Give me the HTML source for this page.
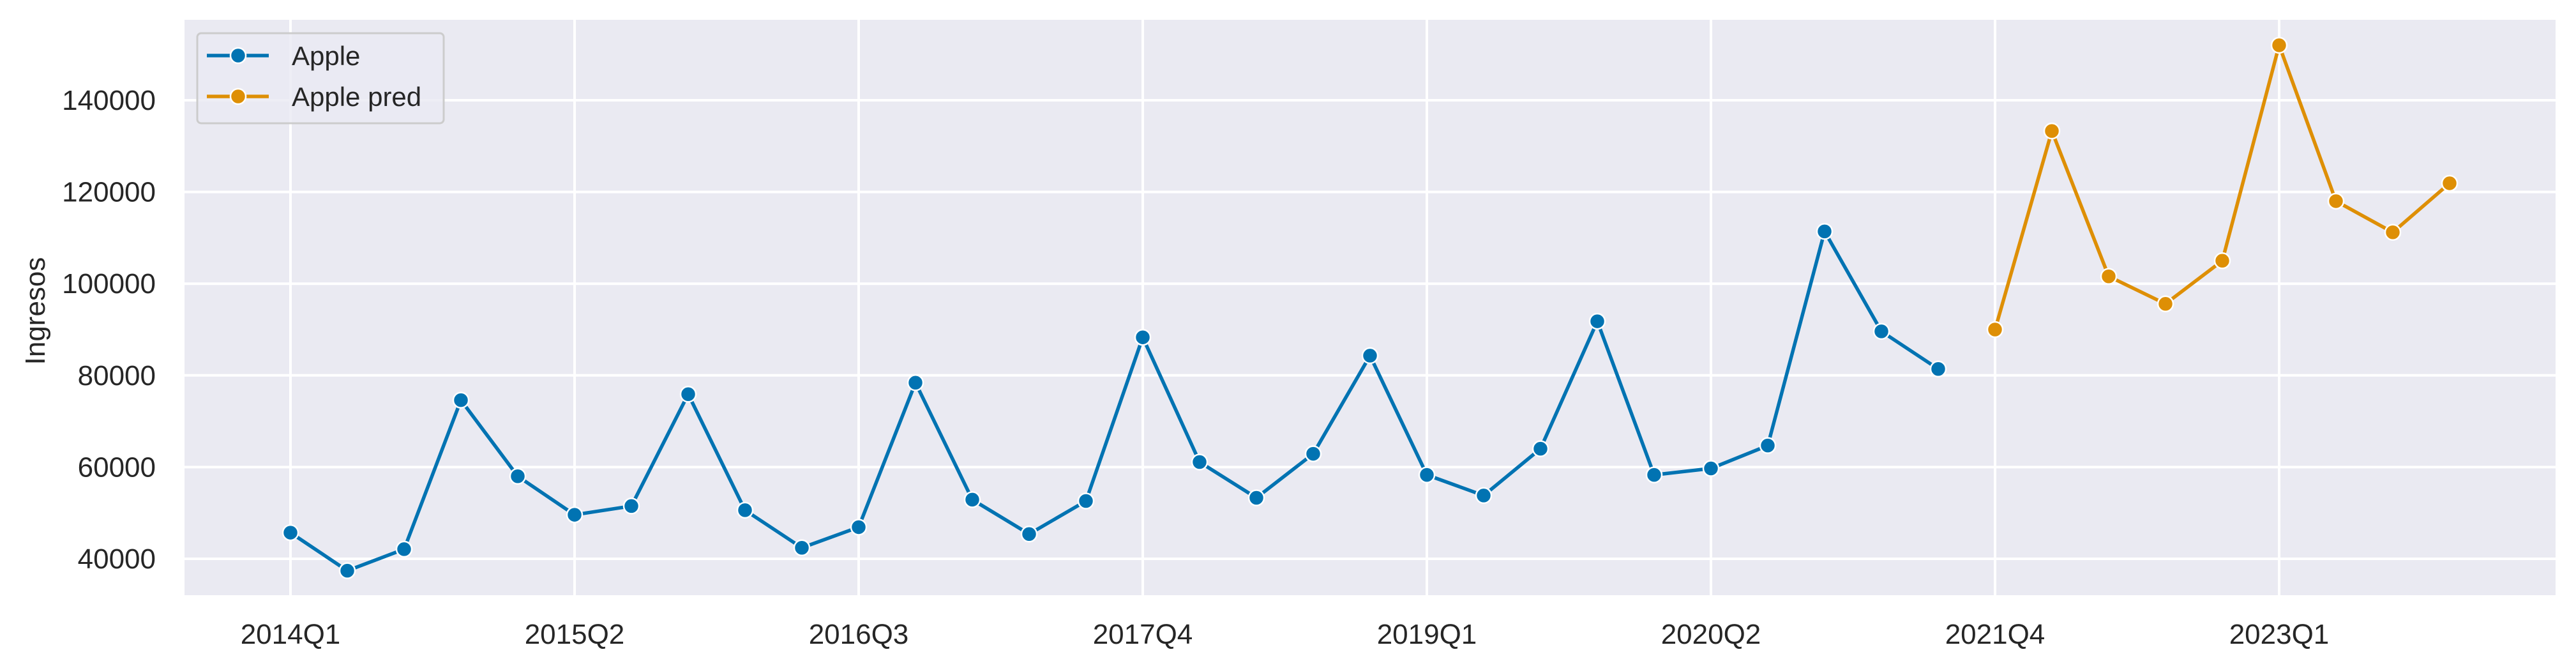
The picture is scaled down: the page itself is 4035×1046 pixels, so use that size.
<!DOCTYPE html>
<html><head><meta charset="utf-8"><style>
html,body{margin:0;padding:0;background:#fff;}
svg{display:block;font-family:"Liberation Sans",sans-serif;}
</style></head><body>
<svg id="chart" width="4035" height="1046" viewBox="0 0 4035 1046">
<rect x="289" y="31" width="3714" height="901" fill="#eaeaf2"/>
<g id="grid"></g><g id="series"></g><g id="axes"></g>
<g>
<rect x="309" y="52" width="386" height="141" rx="6" fill="#eaeaf2" fill-opacity="0.8" stroke="#cccccc" stroke-width="3"/>
<line x1="324" y1="87" x2="421" y2="87" stroke="#0173b2" stroke-width="5.5"/>
<circle cx="373" cy="87" r="12" fill="#0173b2" stroke="#fff" stroke-width="2.5"/>
<text x="457" y="102" font-size="42" fill="#262626">Apple</text>
<line x1="324" y1="151" x2="421" y2="151" stroke="#de8f05" stroke-width="5.5"/>
<circle cx="373" cy="151" r="12" fill="#de8f05" stroke="#fff" stroke-width="2.5"/>
<text x="457" y="166" font-size="42" fill="#262626">Apple pred</text>
</g>
<text transform="translate(70,487) rotate(-90)" text-anchor="middle" font-size="44" fill="#262626">Ingresos</text>
</svg>
<script>
const appleValues=[45700,37400,42100,74600,58000,49600,51500,75900,50600,42400,46900,78400,52900,45400,52600,88300,61100,53300,62900,84300,58300,53800,64000,91800,58300,59700,64700,111400,89600,81400];
const predValues=[90000,133300,101600,95600,105000,152000,118000,111200,121900];
const predStart=30;
const xTickIdx=[0,5,10,15,20,25,30,35];
const xTickLabels=["2014Q1","2015Q2","2016Q3","2017Q4","2019Q1","2020Q2","2021Q4","2023Q1"];
const yTicks=[40000,60000,80000,100000,120000,140000];
const NS="http://www.w3.org/2000/svg";
function X(i){return 455+i*89.0;}
function Y(v){return 875-(v-40000)*143.6/20000;}
function mk(t,a,p){const e=document.createElementNS(NS,t);for(const k in a)e.setAttribute(k,a[k]);p.appendChild(e);return e;}
const grid=document.getElementById('grid'),axes=document.getElementById('axes'),ser=document.getElementById('series');
yTicks.forEach(v=>{
 const l=mk('line',{x1:289,x2:4003,y1:Y(v),y2:Y(v),stroke:'#fff','stroke-width':4},grid);
 
 
 const t=mk('text',{x:244,y:Y(v)+15,'text-anchor':'end','font-size':44,fill:'#262626'},axes);
 t.textContent=v;
 
 
});
xTickIdx.forEach((i,k)=>{
 const l=mk('line',{x1:X(i),x2:X(i),y1:31,y2:932,stroke:'#fff','stroke-width':4},grid);
 
 
 const t=mk('text',{x:X(i),y:1008,'text-anchor':'middle','font-size':44,fill:'#262626'},axes);
 t.textContent=xTickLabels[k];
 
 
});
function drawSeries(vals,start,color,name){
 const pts=vals.map((v,i)=>X(start+i)+','+Y(v)).join(' ');
 const pl=mk('polyline',{points:pts,fill:'none',stroke:color,'stroke-width':5.5,'stroke-linejoin':'round'},ser);
 
 
 vals.forEach((v,i)=>{
  const c=mk('circle',{cx:X(start+i),cy:Y(v),r:12,fill:color,stroke:'#fff','stroke-width':2.5},ser);
  
  
 });
}
drawSeries(appleValues,0,'#0173b2','apple');
drawSeries(predValues,predStart,'#de8f05','apple-pred');
</script>
</body></html>
